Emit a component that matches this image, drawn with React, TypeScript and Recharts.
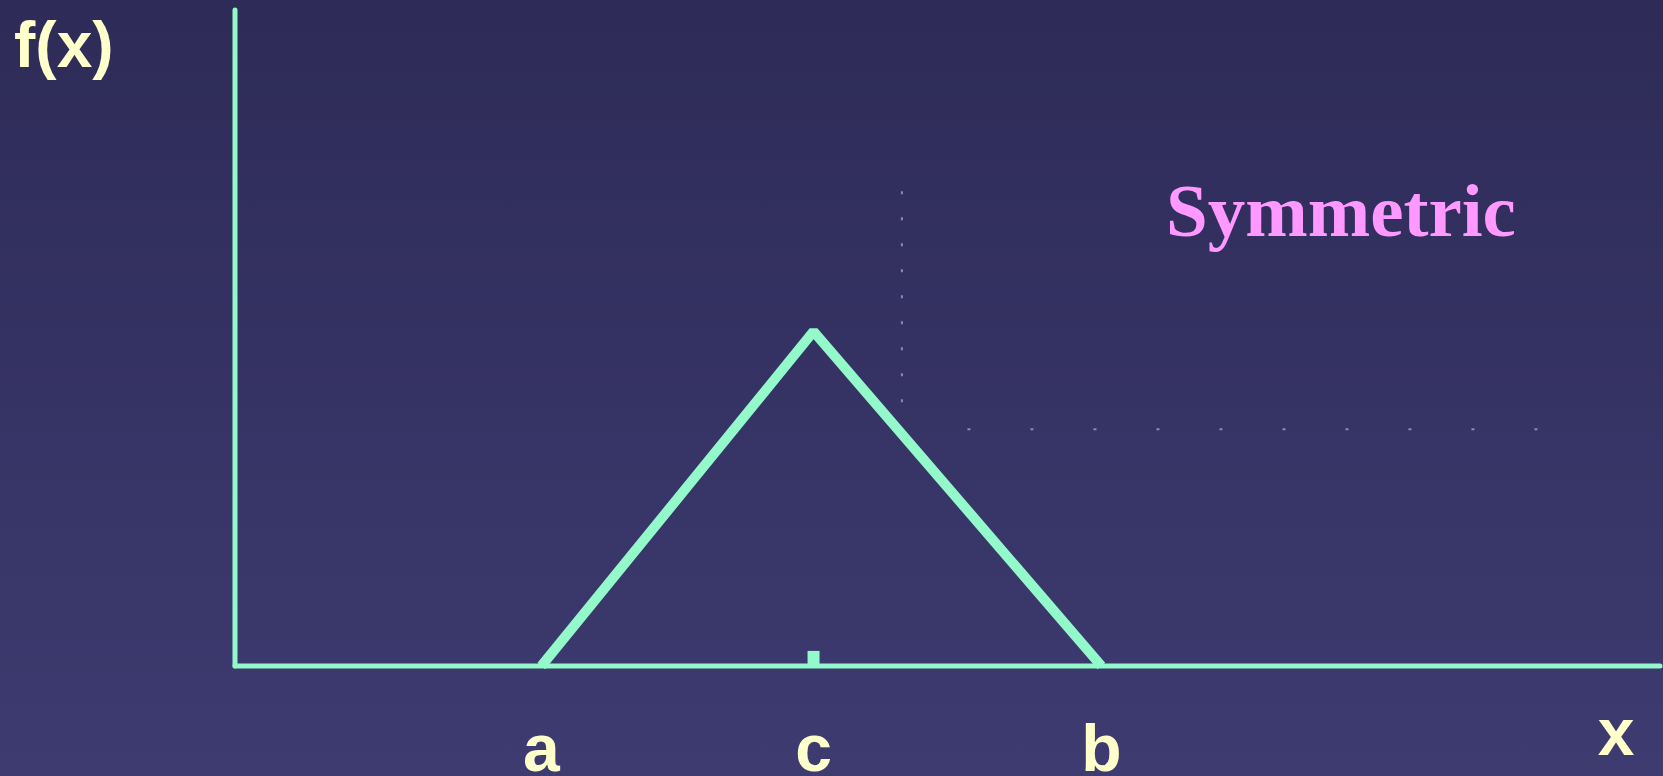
import { Line, LineChart, ReferenceLine, XAxis, YAxis } from 'recharts';

// triangular density: lower bound a, mode c, upper bound b
const tickLabels = ['a', 'c', 'b'];
const tickValues = [21.5, 40.6, 60.8];
const densityValues = [0, 51, 0];

// dotted guides left over on the slide
const guideX = 46.8;
const guideYRange = [40.2, 75.2];
const guideY = 36.1;
const guideXRange = [51.4, 91.4];

const modeMarkHeight = 2.3;

const data = tickValues.map((x, i) => ({ x, y: densityValues[i] }));

const GREEN = '#93f9cb';
const CREAM = '#ffffcc';

function LetterTick(props: any) {
  const { x, payload } = props;
  const i = tickValues.indexOf(payload.value);
  return (
    <text
      x={x}
      y={771}
      textAnchor="middle"
      fill={CREAM}
      fontFamily="'Liberation Sans', Arial, sans-serif"
      fontWeight="bold"
      fontSize={66}
    >
      {tickLabels[i]}
    </text>
  );
}

export default function App() {
  return (
    <div
      style={{
        position: 'fixed',
        left: 0,
        top: 0,
        width: 1663,
        height: 776,
        background: 'linear-gradient(#2e2b58, #3d3b70)',
        overflow: 'hidden',
      }}
    >
      <LineChart width={1663} height={776} data={data} margin={{ top: 10, right: 3, left: 234, bottom: 109 }}>
        <XAxis
          dataKey="x"
          type="number"
          domain={[0, 100]}
          ticks={tickValues}
          interval={0}
          height={1}
          tickLine={false}
          tick={<LetterTick />}
          axisLine={{ stroke: GREEN, strokeWidth: 5, strokeLinecap: 'round' }}
        />
        <YAxis
          type="number"
          domain={[0, 100]}
          width={1}
          tick={false}
          tickLine={false}
          axisLine={{ stroke: GREEN, strokeWidth: 5, strokeLinecap: 'round' }}
        />
        <ReferenceLine
          segment={[
            { x: guideX, y: guideYRange[0] },
            { x: guideX, y: guideYRange[1] },
          ]}
          stroke="#8e8cae"
          strokeWidth={2}
          strokeDasharray="3 23"
        />
        <ReferenceLine
          segment={[
            { x: guideXRange[0], y: guideY },
            { x: guideXRange[1], y: guideY },
          ]}
          stroke="#8e8cae"
          strokeWidth={2}
          strokeDasharray="3 60"
        />
        <ReferenceLine
          segment={[
            { x: tickValues[1], y: 0 },
            { x: tickValues[1], y: modeMarkHeight },
          ]}
          stroke={GREEN}
          strokeWidth={12}
        />
        <Line
          dataKey="y"
          type="linear"
          stroke={GREEN}
          strokeWidth={10}
          strokeLinejoin="bevel"
          dot={false}
          activeDot={false}
          isAnimationActive={false}
        />
      </LineChart>
      <svg width={1663} height={776} style={{ position: 'absolute', left: 0, top: 0, pointerEvents: 'none' }}>
        <text x={14} y={67} fill={CREAM} fontFamily="'Liberation Sans', Arial, sans-serif" fontWeight="bold" fontSize={64}>
          f(x)
        </text>
        <text
          x={1616}
          y={755}
          textAnchor="middle"
          fill={CREAM}
          fontFamily="'Liberation Sans', Arial, sans-serif"
          fontWeight="bold"
          fontSize={66}
        >
          x
        </text>
        <text x={1166} y={236} fill="#ff99ff" fontFamily="'Liberation Serif', 'Times New Roman', serif" fontWeight="bold" fontSize={75}>
          Symmetric
        </text>
      </svg>
    </div>
  );
}
